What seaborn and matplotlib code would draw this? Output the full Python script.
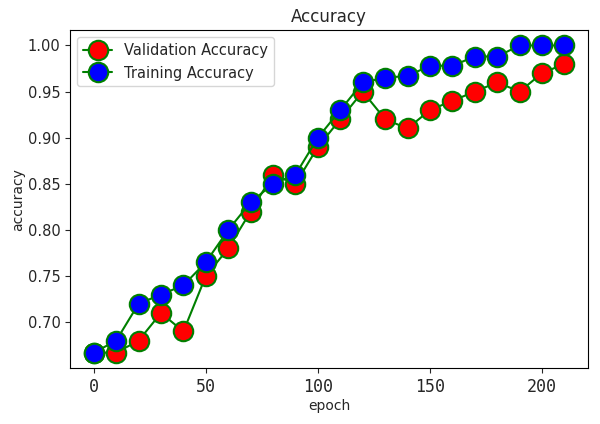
import numpy as np
import pandas as pd
import matplotlib
matplotlib.use('Agg')
import matplotlib.pyplot as plt
import seaborn as sns

epochs = list(range(0, 220, 10))
val_acc = [0.667, 0.667, 0.68, 0.71, 0.69, 0.75, 0.78, 0.82, 0.86, 0.85, 0.89,
           0.92, 0.95, 0.92, 0.91, 0.93, 0.94, 0.95, 0.96, 0.95, 0.97, 0.98]
train_acc = [0.667, 0.68, 0.72, 0.73, 0.74, 0.765, 0.80, 0.83, 0.85, 0.86, 0.90,
             0.93, 0.96, 0.965, 0.967, 0.978, 0.978, 0.988, 0.988, 1.0, 1.0, 1.0]

sns.set_style('ticks')
plt.rcParams['font.family'] = ['DejaVu Sans']
plt.rcParams['axes.edgecolor'] = 'black'

df = pd.DataFrame({'epoch': epochs, 'val': val_acc, 'train': train_acc})

fig, ax = plt.subplots(figsize=(6, 4.24), dpi=100)
fig.subplots_adjust(left=0.117, right=0.98, top=0.929, bottom=0.132)

sns.lineplot(data=df, x='epoch', y='val', ax=ax, color='green', marker='o',
             markersize=14, markerfacecolor='red', markeredgecolor='green',
             markeredgewidth=1.5, linewidth=1.5, label='Validation Accuracy')
sns.lineplot(data=df, x='epoch', y='train', ax=ax, color='green', marker='o',
             markersize=14, markerfacecolor='blue', markeredgecolor='green',
             markeredgewidth=1.5, linewidth=1.5, label='Training Accuracy')

ax.set_title('Accuracy', fontsize=12)
ax.set_xlabel('epoch', fontsize=10, labelpad=2)
ax.set_ylabel('accuracy', fontsize=10, labelpad=2)
ax.set_xticks([0, 50, 100, 150, 200])
for t in ax.get_xticklabels():
    t.set_family('DejaVu Sans Mono')
    t.set_fontsize(12)
ax.tick_params(axis='y', labelsize=10.5)
ax.yaxis.set_major_formatter(matplotlib.ticker.FormatStrFormatter('%.2f'))
ax.legend(loc='upper left', fontsize=10.5)

plt.savefig('out.png', dpi=100)
